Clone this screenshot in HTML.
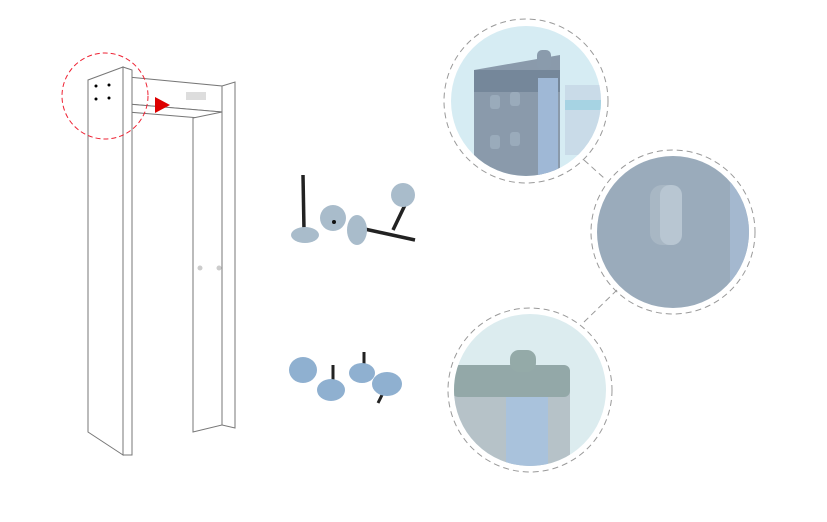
<!DOCTYPE html>
<html><head><style>html,body{margin:0;padding:0;background:#fff;}svg{display:block}</style></head>
<body>
<svg width="827" height="522" viewBox="0 0 827 522" xmlns="http://www.w3.org/2000/svg">
<defs>
<clipPath id="c1"><circle cx="526" cy="101" r="75"/></clipPath>
<clipPath id="c2"><circle cx="673" cy="232" r="76"/></clipPath>
<clipPath id="c3"><circle cx="530" cy="390" r="76"/></clipPath>
</defs>
<g fill="#fff" stroke="#777" stroke-width="1">
<polygon points="128,77 222,86 222,112 128,104"/>
<polygon points="128,104 222,112 200,118 128,112"/>
<polygon points="193,118 222,112 222,425 193,432"/>
<polygon points="222,86 235,82 235,428 222,425"/>
<polygon points="88,80 123,67 123,455 88,432"/>
<polygon points="123,67 132,70 132,455 123,455"/>
</g>
<rect x="186" y="92" width="20" height="8" fill="#ddd"/>
<g fill="#000"><circle cx="96" cy="86" r="1.5"/><circle cx="109" cy="85" r="1.5"/><circle cx="96" cy="99" r="1.5"/><circle cx="109" cy="98" r="1.5"/></g>
<circle cx="200" cy="268" r="2.5" fill="#ccc"/><circle cx="219" cy="268" r="2.5" fill="#ccc"/>
<circle cx="105" cy="96" r="43" fill="none" stroke="#e23" stroke-width="1" stroke-dasharray="5,3"/>
<polygon points="155,97 170,105 155,113" fill="#d00"/>
<!-- parts top -->
<g fill="#a9bccb">
<line x1="303" y1="175" x2="304" y2="230" stroke="#222" stroke-width="3.5"/>
<ellipse cx="305" cy="235" rx="14" ry="8"/>
<ellipse cx="333" cy="218" rx="13" ry="13"/>
<circle cx="334" cy="222" r="2" fill="#111"/>
<line x1="360" y1="228" x2="415" y2="240" stroke="#222" stroke-width="3.5"/>
<ellipse cx="357" cy="230" rx="10" ry="15"/>
<line x1="405" y1="205" x2="393" y2="230" stroke="#222" stroke-width="3.5"/>
<ellipse cx="403" cy="195" rx="12" ry="12"/>
</g>
<!-- parts bottom -->
<g fill="#8fb0d0">
<line x1="333" y1="365" x2="333" y2="383" stroke="#222" stroke-width="3"/>
<line x1="364" y1="352" x2="364" y2="365" stroke="#222" stroke-width="3"/>
<line x1="383" y1="393" x2="378" y2="403" stroke="#222" stroke-width="3"/>
<ellipse cx="303" cy="370" rx="14" ry="13"/>
<ellipse cx="331" cy="390" rx="14" ry="11"/>
<ellipse cx="362" cy="373" rx="13" ry="10"/>
<ellipse cx="387" cy="384" rx="15" ry="12"/>
</g>
<!-- circles -->
<circle cx="526" cy="101" r="75" fill="#d6ecf3"/>
<g clip-path="url(#c1)">
<rect x="565" y="85" width="40" height="70" fill="#c9dbe8"/>
<rect x="565" y="100" width="40" height="10" fill="#a6d3e3"/>
<polygon points="474,70 560,55 560,180 474,180" fill="#8a9aab"/>
<rect x="474" y="70" width="86" height="22" fill="#75879a"/>
<rect x="538" y="78" width="20" height="110" fill="#9fb8d6"/>
<rect x="537" y="50" width="14" height="20" rx="5" fill="#8a9bac"/>
<rect x="490" y="95" width="10" height="14" rx="3" fill="#9aabbb"/><rect x="510" y="92" width="10" height="14" rx="3" fill="#9aabbb"/>
<rect x="490" y="135" width="10" height="14" rx="3" fill="#9aabbb"/><rect x="510" y="132" width="10" height="14" rx="3" fill="#9aabbb"/>
</g>
<circle cx="526" cy="101" r="82" fill="none" stroke="#999" stroke-dasharray="6,4"/>
<circle cx="673" cy="232" r="76" fill="#9aabbb"/>
<g clip-path="url(#c2)">
<rect x="730" y="150" width="25" height="160" fill="#a4b8cf"/>
<rect x="650" y="185" width="30" height="60" rx="12" fill="#a8b7c4"/>
<rect x="660" y="185" width="22" height="60" rx="10" fill="#b8c6d2"/>
</g>
<circle cx="673" cy="232" r="82" fill="none" stroke="#999" stroke-dasharray="6,4"/>
<circle cx="530" cy="390" r="76" fill="#dcecef"/>
<g clip-path="url(#c3)">
<rect x="450" y="390" width="120" height="80" fill="#b6c2c8"/>
<rect x="506" y="390" width="42" height="80" fill="#a9c2dc"/>
<rect x="452" y="365" width="118" height="32" rx="6" fill="#93a8a8"/>
<rect x="510" y="350" width="26" height="22" rx="9" fill="#94aaa8"/>
</g>
<circle cx="530" cy="390" r="82" fill="none" stroke="#999" stroke-dasharray="6,4"/>
<line x1="584" y1="160" x2="604" y2="178" stroke="#999" stroke-dasharray="6,4"/>
<line x1="617" y1="290" x2="584" y2="322" stroke="#999" stroke-dasharray="6,4"/>
</svg>
</body></html>
